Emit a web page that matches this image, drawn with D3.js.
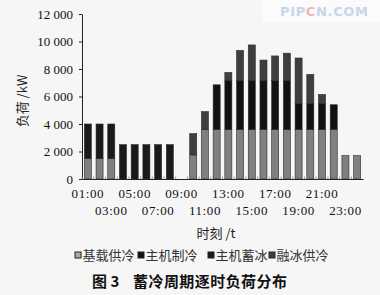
<!DOCTYPE html>
<html>
<head>
<meta charset="utf-8">
<script src="https://cdn.jsdelivr.net/npm/d3@7"></script>
<style>
  html, body { margin: 0; padding: 0; background: #f6f6f6; }
  svg { display: block; }
</style>
</head>
<body>
<div id="chart"></div>
<script>
// hourly load (kW), one array per supply mode
const hours = ["01:00","02:00","03:00","04:00","05:00","06:00","07:00","08:00",
  "09:00","10:00","11:00","12:00","13:00","14:00","15:00","16:00",
  "17:00","18:00","19:00","20:00","21:00","22:00","23:00","24:00"];
const seriesNames = ["基载供冷", "主机制冷", "主机蓄冰", "融冰供冷"];
const baseLoad   = [1500,1500,1500,0,0,0,0,0, 0,1750,3600,3600,3600,3600,3600,3600, 3600,3600,3600,3600,3600,3600,1700,1700];
const chillerCool = [0,0,0,0,0,0,0,0, 0,0,0,3250,3550,3550,3550,3550, 3550,3550,1900,1900,1900,1800,0,0];
const iceStore   = [2500,2500,2500,2500,2500,2500,2500,2500, 0,0,0,0,0,0,0,0, 0,0,0,0,0,0,0,0];
const iceMelt    = [0,0,0,0,0,0,0,0, 0,1550,1300,0,600,2200,2600,1500, 1800,2000,3300,2100,650,0,0,0];
const yTicks = [0,2000,4000,6000,8000,10000,12000];
const xLabelHours = ["01:00","03:00","05:00","07:00","09:00","11:00","13:00","15:00","17:00","19:00","21:00","23:00"];

const colors = ["#808080", "#121212", "#1a1a1a", "#3e3e3e"];
const width = 380, height = 295;

const rows = hours.map((h, i) => ({
  hour: h,
  "基载供冷": baseLoad[i],
  "主机制冷": chillerCool[i],
  "主机蓄冰": iceStore[i],
  "融冰供冷": iceMelt[i]
}));

const svg = d3.select("#chart").append("svg")
  .attr("width", width)
  .attr("height", height);

svg.append("rect").attr("width", width).attr("height", height).attr("fill", "#f6f6f6");

// watermark
svg.append("rect").attr("x", 262).attr("y", 0).attr("width", 118).attr("height", 22).attr("fill", "#fbfbfb");
let wm = svg.append("text")
  .attr("x", 280).attr("y", 16)
  .style("font-family", "DejaVu Sans, sans-serif")
  .style("font-weight", "bold")
  .style("font-size", "13px")
  .attr("textLength", 88)
  .attr("fill", "#c8d5ec");
wm.append("tspan").text("PIP");
wm.append("tspan").attr("fill", "#eeb7b7").text("C");
wm.append("tspan").text("N.COM");

const x = d3.scaleBand()
  .domain(hours)
  .range([82, 363])
  .paddingInner(0.4)
  .paddingOuter(0.2);

const y = d3.scaleLinear()
  .domain([0, 12000])
  .range([179, 14]);

const stacked = d3.stack().keys(seriesNames)(rows);

svg.append("g")
  .selectAll("g")
  .data(stacked)
  .enter()
    .append("g")
    .attr("fill", (d, i) => colors[i])
  .selectAll("rect")
  .data(d => d.filter(p => p[1] > p[0]))
  .enter()
    .append("rect")
    .attr("x", d => x(d.data.hour))
    .attr("y", d => y(d[1]))
    .attr("width", x.bandwidth())
    .attr("height", d => y(d[0]) - y(d[1]))
    .attr("stroke", "#2a2a2a")
    .attr("stroke-width", 0.6)
;

// y axis
let yAxis = svg.append("g")
  .attr("transform", "translate(82,0)")
  .call(d3.axisLeft(y)
    .tickValues(yTicks)
    .tickSize(3)
    .tickSizeOuter(0)
    .tickPadding(6)
    .tickFormat(d => d3.format(",")(d).replace(",", " ")));
yAxis.select(".domain").attr("stroke", "#222");
yAxis.selectAll(".tick line").attr("stroke", "#222");
yAxis.selectAll("text")
  .attr("fill", "#111")
  .style("font-family", "Liberation Serif, serif")
  .style("font-size", "13px");

// x axis
let xAxis = svg.append("g")
  .attr("transform", "translate(0,179)")
  .call(d3.axisBottom(x)
    .tickValues(xLabelHours)
    .tickSize(0)
    .tickSizeOuter(0)
    .tickPadding(10));
xAxis.select(".domain").attr("stroke", "#222").attr("stroke-width", 1.2);
xAxis.selectAll("text")
  .attr("fill", "#111")
  .attr("dy", (d, i) => (i % 2 == 0 ? "0.71em" : "2.0em"))
  .style("font-family", "Liberation Serif, serif")
  .style("font-size", "13px")
  .style("letter-spacing", "0.6px");

// little gray marks at the base between bars
svg.append("g")
  .selectAll("line")
  .data(hours)
  .enter()
    .append("line")
    .attr("x1", d => x(d) - x.step() * 0.2)
    .attr("x2", d => x(d) - x.step() * 0.2)
    .attr("y1", 179)
    .attr("y2", 176.5)
    .attr("stroke", "#999")
    .attr("stroke-width", 1);

// axis titles
svg.append("text")
  .attr("transform", "translate(27,101) rotate(-90)")
  .attr("text-anchor", "middle")
  .style("font-family", "Noto Sans CJK SC, sans-serif")
  .style("font-size", "13px")
  .attr("fill", "#222")
  .text("负荷 /kW");

svg.append("text")
  .attr("x", 216).attr("y", 238)
  .attr("text-anchor", "middle")
  .style("font-family", "Noto Sans CJK SC, sans-serif")
  .style("font-size", "13px")
  .attr("fill", "#222")
  .text("时刻 /t");

// legend
const legendX = [75, 138, 208, 269];
let legend = svg.append("g")
  .selectAll("g")
  .data(seriesNames)
  .enter()
    .append("g")
    .attr("transform", (d, i) => "translate(" + legendX[i] + ",255)");
legend.append("rect")
  .attr("x", 0).attr("y", -3)
  .attr("width", 6).attr("height", 6)
  .attr("fill", (d, i) => i == 0 ? "#aaa" : colors[i])
  .attr("stroke", "#222")
  .attr("stroke-width", 1);
legend.append("text")
  .attr("x", 7.5).attr("y", 0)
  .attr("dy", "0.35em")
  .style("font-family", "Noto Sans CJK SC, sans-serif")
  .style("font-size", "13px")
  .attr("fill", "#333")
  .text(d => d);

// caption
svg.append("text")
  .attr("x", 92).attr("y", 287)
  .style("font-family", "Noto Sans CJK SC, sans-serif")
  .style("font-size", "15px")
  .style("font-weight", "bold")
  .attr("fill", "#111")
  .text("图 3");
svg.append("text")
  .attr("x", 133).attr("y", 287)
  .style("font-family", "Noto Sans CJK SC, sans-serif")
  .style("font-size", "15px")
  .style("font-weight", "bold")
  .attr("fill", "#111")
  .attr("textLength", 154)
  .text("蓄冷周期逐时负荷分布");
</script>
</body>
</html>
